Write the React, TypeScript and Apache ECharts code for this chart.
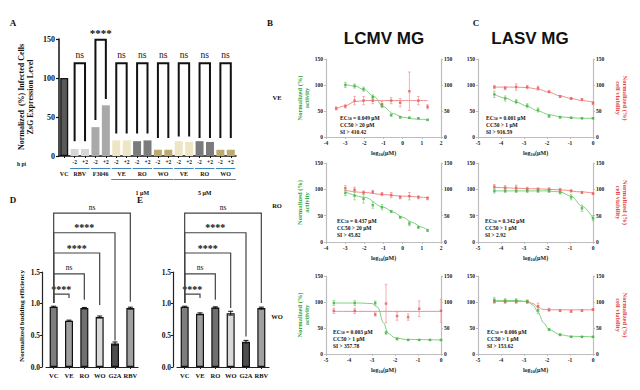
import React, { useEffect, useRef } from "react";
import * as echarts from "echarts";

const SERIF = '"Liberation Serif", "DejaVu Serif", serif';
const SANS = '"Liberation Sans", Arial, sans-serif';

// ---------- Panel A ----------
const aCategories = ["VC", "RBV -2", "RBV +2", "F3046 -2", "F3046 +2", "VE 1µM -2", "VE 1µM +2", "RO 1µM -2", "RO 1µM +2", "WO 1µM -2", "WO 1µM +2", "VE 5µM -2", "VE 5µM +2", "RO 5µM -2", "RO 5µM +2", "WO 5µM -2", "WO 5µM +2"];
const aTickLabels = ["", "-2", "+2", "-2", "+2", "-2", "+2", "-2", "+2", "-2", "+2", "-2", "+2", "-2", "+2", "-2", "+2"];
const aValues = [100, 9, 9, 37, 65, 20, 20, 19, 20, 8, 8, 19, 18, 19, 18, 8, 8];
const aBrackets = [[1, 2, 119, 19, 19], [3, 4, 149, 46, 73], [5, 6, 119, 29, 29], [7, 8, 119, 29, 29], [9, 10, 119, 23, 23], [11, 12, 119, 25, 25], [13, 14, 119, 23, 23], [15, 16, 119, 23, 23]];
const aBracketLabels = ["ns", "****", "ns", "ns", "ns", "ns", "ns", "ns"];
const aGroupLabels = ["VC", "RBV", "F3046", "VE", "RO", "WO", "VE", "RO", "WO"];
const aGroupCenters = [0, 1.5, 3.5, 5.5, 7.5, 9.5, 11.5, 13.5, 15.5];
const aDoseLabels = ["1 μM", "5 μM"];

// ---------- Panels D / E ----------
const deCategories = ["VC", "VE", "RO", "WO", "G2A", "RBV"];
const dValues = [0.95, 0.73, 0.93, 0.79, 0.37, 0.93];
const dErrors = [0.01, 0.01, 0.01, 0.015, 0.025, 0.015];
const eValues = [0.95, 0.84, 0.94, 0.85, 0.4, 0.93];
const eErrors = [0.01, 0.015, 0.01, 0.03, 0.02, 0.015];
const dBrackets = [[0, 1, 1.15, 1.01, 1.09], [0, 2, 1.47, 1.01, 1.06], [0, 3, 1.8, 1.01, 0.98], [0, 4, 2.12, 1.01, 0.42], [0, 5, 2.43, 1.01, 1.03]];
const eBrackets = [[0, 1, 1.15, 1.01, 1.09], [0, 2, 1.47, 1.01, 1.06], [0, 3, 1.8, 1.01, 0.93], [0, 4, 2.12, 1.01, 0.48], [0, 5, 2.43, 1.01, 1.01]];
const deBracketLabels = ["****", "ns", "****", "****", "ns"];

// ---------- Dose-response panels (log10 µM) ----------
const xTop20 = [-2.99, -2.51, -2.04, -1.56, -1.08, -0.6, -0.13, 0.35, 0.82, 1.3];
const xTop20r = [-3.47, -2.99, -2.51, -2.04, -1.56, -1.08, -0.6, -0.13, 0.35, 0.82, 1.3];
const xTop1 = [-4.29, -3.82, -3.34, -2.86, -2.39, -1.91, -1.43, -0.95, -0.48, 0];

// B1 LCMV VE
const b1Green = [100, 98, 92, 77, 60, 42, 38, 37, 36, 33];
const b1GreenErr = [5, 4, 4, 4, 3, 2, 2, 1, 1, 1];
const b1GreenCurveX = [-2.99, -2.5, -2, -1.5, -1, -0.5, 0, 0.5, 1, 1.3];
const b1GreenCurveY = [101, 98, 91, 78, 58, 45, 38, 35, 34, 33];
const b1Red = [55, 59, 70, 70, 70, 63, 70, 66, 88, 70, 58];
const b1RedErr = [3, 3, 8, 8, 6, 5, 6, 8, 37, 8, 4];
const b1RedCurveX = [-3.47, -3, -2.5, -2, -1, 0, 1.3];
const b1RedCurveY = [54, 60, 68, 70, 70, 70, 70];

// B2 LCMV RO
const b2Green = [93, 88, 82, 70, 66, 58, 47, 35, 28, 22];
const b2GreenErr = [5, 8, 8, 6, 5, 2, 2, 4, 2, 2];
const b2GreenCurveX = [-2.99, -2, -1, -0.5, 0, 0.5, 1, 1.3];
const b2GreenCurveY = [95, 85, 66, 57, 47, 37, 28, 23];
const b2Red = [102, 99, 94, 95, 91, 89, 85, 87, 85, 83];
const b2RedErr = [5, 5, 3, 3, 3, 5, 3, 7, 3, 3];
const b2RedCurveX = [-2.99, -2, -1, 0, 1.3];
const b2RedCurveY = [98, 94, 90, 87, 84];

// B3 LCMV WO
const b3GreenX = [-4.66, -3.75, -2.86, -2.39, -1.91, -1.43, -0.95, -0.48, 0];
const b3Green = [98, 98, 98, 41, 29, 27, 27, 27, 27];
const b3GreenErr = [5, 5, 4, 3, 2, 1, 1, 1, 1];
const b3GreenCurveX = [-4.66, -3.5, -3, -2.75, -2.5, -2.3, -2, -1.5, 0];
const b3GreenCurveY = [98, 98, 97, 90, 60, 40, 31, 28, 27];
const b3RedX = [-4.66, -3.75, -2.86, -2.39, -1.91, -1.43, -0.95, 0];
const b3Red = [83, 83, 76, 97, 73, 71, 87, 83];
const b3RedErr = [5, 5, 3, 37, 8, 6, 15, 22];
const b3RedCurveX = [-4.66, 0];
const b3RedCurveY = [82, 82];

// C1 LASV VE
const c1Green = [82, 74, 68, 60, 52, 40, 38, 37, 36, 36];
const c1GreenErr = [6, 5, 4, 4, 4, 2, 2, 1, 1, 1];
const c1GreenCurveX = [-4.29, -3.82, -3.34, -2.86, -2.39, -1.91, -1.43, -0.95, -0.48, 0];
const c1GreenCurveY = [82, 75, 67, 59, 50, 43, 39, 37, 36, 36];
const c1Red = [96, 94, 96, 96, 94, 87, 78, 74, 72, 65];
const c1RedErr = [3, 3, 6, 3, 4, 2, 2, 2, 2, 3];
const c1RedCurveX = [-4.29, -3.34, -2.86, -2.39, -1.91, -1.43, -0.95, -0.48, 0];
const c1RedCurveY = [96, 96, 95, 92, 86, 79, 74, 70, 67];

// C2 LASV RO
const c2Green = [97, 97, 97, 97, 97, 97, 94, 85, 64, 45];
const c2GreenErr = [4, 3, 3, 3, 3, 3, 3, 5, 6, 5];
const c2GreenCurveX = [-4.29, -2, -1.43, -0.95, -0.48, 0];
const c2GreenCurveY = [97, 97, 95, 87, 68, 45];
const c2Red = [105, 103, 103, 101, 100, 100, 99, 97, 94, 92];
const c2RedErr = [4, 4, 5, 3, 3, 3, 3, 2, 2, 2];
const c2RedCurveX = [-4.29, -2.39, -1.43, -0.48, 0];
const c2RedCurveY = [104, 101, 99, 95, 93];

// C3 LASV WO
const c3Green = [104, 102.5, 102.5, 100.6, 83.5, 47, 37, 33, 33, 33];
const c3GreenErr = [5, 4, 4, 3, 6, 2, 2, 1, 1, 1];
const c3GreenCurveX = [-4.29, -3.34, -2.86, -2.6, -2.39, -2.15, -1.91, -1.43, -0.95, 0];
const c3GreenCurveY = [103, 103, 101, 94, 80, 60, 47, 37, 34, 33];
const c3Red = [100.6, 100.6, 100.6, 100.6, 92, 85, 83.5, 82, 83.5, 85.5];
const c3RedErr = [3, 3, 3, 3, 6, 3, 2, 2, 2, 2];
const c3RedCurveX = [-4.29, -2.86, -2.6, -2.39, -2.2, -1.91, 0];
const c3RedCurveY = [101, 101, 97, 90, 86, 85, 85];

const annotations = [
  ["0.049", "20", "410.42"],
  ["0.437", "20", "45.82"],
  ["0.003", "1", "357.78"],
  ["0.001", "1", "916.59"],
  ["0.342", "1", "2.92"],
  ["0.006", "1", "153.62"],
];
const rowLabels = ["VE", "RO", "WO"];

// ---------- layout ----------
const A = { left: 59, top: 39, width: 177, height: 117 };
const D = { left: 46, top: 272, width: 92, height: 95 };
const E = { left: 177, top: 272, width: 92, height: 95 };
const doseGrids = [
  { left: 326, top: 59, width: 115, height: 78 },
  { left: 326, top: 163, width: 115, height: 79 },
  { left: 326, top: 276, width: 115, height: 78 },
  { left: 478, top: 59, width: 115, height: 78 },
  { left: 478, top: 163, width: 115, height: 79 },
  { left: 478, top: 276, width: 115, height: 78 },
];
const annPos = [[340, 117], [337, 220], [333, 331], [486, 117], [485, 220], [487, 331]];

const GREEN = "#45b345";
const GREEN_LINE = "#7fd07f";
const RED = "#e25c5c";
const RED_LINE = "#f08c8c";
const BLUE = "#3f88bf";

const aColors = ["#595959", "#d6d6d6", "#d6d6d6", "#a9a9a9", "#a9a9a9", "#eee5c4", "#eee5c4", "#7b7b7b", "#7b7b7b", "#bcaa6c", "#bcaa6c", "#eee5c4", "#eee5c4", "#7b7b7b", "#7b7b7b", "#bcaa6c", "#bcaa6c"];
const deColors = ["#7d7d7d", "#9e9e9e", "#6f6f6f", "#dadada", "#4e4e4e", "#a0a0a0"];

const pair = (xs: number[], ys: number[]) => xs.map((x, i) => [x, ys[i]]);
const errs = (xs: number[], ys: number[], es: number[]) => xs.map((x, i) => [x, ys[i] - es[i], ys[i] + es[i]]);

function errSeries(xi: number, yi: number, data: number[][], color: string, cap: number, lw: number) {
  return {
    type: "custom",
    xAxisIndex: xi,
    yAxisIndex: yi,
    data,
    silent: true,
    z: 4,
    itemStyle: { color },
    renderItem: (params: any, api: any) => {
      const x = api.value(0);
      const a = api.coord([x, api.value(1)]);
      const b = api.coord([x, api.value(2)]);
      const st = { stroke: color, lineWidth: lw };
      return {
        type: "group",
        children: [
          { type: "line", shape: { x1: a[0], y1: a[1], x2: b[0], y2: b[1] }, style: st },
          { type: "line", shape: { x1: a[0] - cap, y1: a[1], x2: a[0] + cap, y2: a[1] }, style: st },
          { type: "line", shape: { x1: b[0] - cap, y1: b[1], x2: b[0] + cap, y2: b[1] }, style: st },
        ],
      };
    },
  };
}

function bracketSeries(xi: number, yi: number, data: number[][], labels: string[], color: string, lw: number, starFont: string, nsFont: string, gap: number) {
  return {
    type: "custom",
    xAxisIndex: xi,
    yAxisIndex: yi,
    data,
    clip: false,
    silent: true,
    z: 5,
    itemStyle: { color: "#111" },
    renderItem: (params: any, api: any) => {
      const i1 = api.value(0);
      const i2 = api.value(1);
      const top = api.value(2);
      const pl = api.coord([i1, api.value(3)]);
      const pt1 = api.coord([i1, top]);
      const pt2 = api.coord([i2, top]);
      const pr = api.coord([i2, api.value(4)]);
      const lab = labels[params.dataIndex];
      const star = lab.indexOf("*") >= 0;
      return {
        type: "group",
        children: [
          { type: "polyline", shape: { points: [pl, pt1, pt2, pr] }, style: { stroke: color, lineWidth: lw, fill: "none" } },
          {
            type: "text",
            style: {
              text: lab,
              x: (pt1[0] + pt2[0]) / 2,
              y: pt1[1] - (star ? gap - 2 : gap),
              textAlign: "center",
              textVerticalAlign: "bottom",
              font: star ? starFont : nsFont,
              fill: "#111",
              textFill: "#111",
            },
          },
        ],
      };
    },
  };
}

function buildOption() {
  const grids: any[] = [A, D, E, ...doseGrids].map((g) => ({ ...g, containLabel: false, outerBoundsMode: "none" }));
  const xAxes: any[] = [];
  const yAxes: any[] = [];
  const series: any[] = [];
  const graphic: any[] = [];

  // ---- A axes ----
  xAxes.push({
    type: "category",
    gridIndex: 0,
    data: aCategories,
    axisLine: { lineStyle: { color: "#111", width: 1.5 } },
    axisTick: { show: true, alignWithLabel: true, interval: 0, length: 2, lineStyle: { color: "#111" } },
    axisLabel: {
      interval: 0,
      formatter: (v: string, i: number) => aTickLabels[i],
      fontSize: 5.5,
      fontWeight: "bold",
      fontFamily: SERIF,
      color: "#111",
      margin: 3,
    },
  });
  yAxes.push({
    type: "value",
    gridIndex: 0,
    min: 0,
    max: 150,
    interval: 50,
    axisLine: { show: true, lineStyle: { color: "#111", width: 1.5 } },
    axisTick: { show: true, length: 3, lineStyle: { color: "#111", width: 1.2 } },
    axisLabel: { fontSize: 8, fontWeight: "bold", fontFamily: SERIF, color: "#111", margin: 4 },
    splitLine: { show: false },
  });
  // ---- D / E axes ----
  [1, 2].forEach((g) => {
    xAxes.push({
      type: "category",
      gridIndex: g,
      data: deCategories,
      axisLine: { lineStyle: { color: "#222", width: 1.2 } },
      axisTick: { show: true, alignWithLabel: true, length: 2, lineStyle: { color: "#222" } },
      axisLabel: { interval: 0, fontSize: 6.5, fontWeight: "bold", fontFamily: SERIF, color: "#111", margin: 5 },
    });
    yAxes.push({
      type: "value",
      gridIndex: g,
      min: 0,
      max: 1.5,
      interval: 0.5,
      offset: 4,
      axisLine: { show: true, lineStyle: { color: "#222", width: 1.2 } },
      axisTick: { show: true, length: 2, lineStyle: { color: "#222" } },
      axisLabel: { fontSize: 7.5, fontWeight: "bold", fontFamily: SERIF, color: "#111", margin: 2, formatter: (v: number) => v.toFixed(1) },
      splitLine: { show: false },
    });
  });
  // ---- dose axes ----
  const axisGray = "#bdbdbd";
  const doseLabel = { fontSize: 5.5, fontWeight: "bold", fontFamily: SERIF, color: "#222" };
  doseGrids.forEach((g, k) => {
    const gi = 3 + k;
    const isB = k < 3;
    const xmin = k === 0 || k === 1 ? -4 : -5;
    const xmax = k === 0 || k === 1 ? 2 : 0;
    xAxes.push({
      type: "value",
      gridIndex: gi,
      min: xmin,
      max: xmax,
      interval: 1,
      axisLine: { show: true, onZero: false, lineStyle: { color: axisGray, width: 1.2 } },
      axisTick: { show: true, length: 2, lineStyle: { color: axisGray } },
      axisLabel: { ...doseLabel, margin: 3 },
      splitLine: { show: false },
      name: "log{sub|10}(μM)",
      nameLocation: "middle",
      nameGap: 12,
      nameTextStyle: {
        fontSize: 6,
        fontWeight: "bold",
        fontFamily: SERIF,
        color: "#222",
        rich: { sub: { fontSize: 4.5, fontWeight: "bold", fontFamily: SERIF, color: "#222", padding: [3, 0, 0, 0] } },
      },
    });
    yAxes.push({
      type: "value",
      gridIndex: gi,
      position: "left",
      min: 0,
      max: 150,
      interval: 50,
      axisLine: { show: true, onZero: false, lineStyle: { color: axisGray, width: 1.2 } },
      axisTick: { show: true, length: 2, lineStyle: { color: axisGray } },
      axisLabel: { ...doseLabel, margin: 3 },
      splitLine: { show: false },
      name: isB ? "Normalized (%)\nactivity" : "",
      nameLocation: "middle",
      nameRotate: 90,
      nameGap: 16,
      nameTextStyle: { fontSize: 6.5, fontWeight: "bold", fontFamily: SERIF, color: "#3aa63a", lineHeight: 7 },
    });
    yAxes.push({
      type: "value",
      gridIndex: gi,
      position: "right",
      min: 0,
      max: 150,
      interval: 50,
      axisLine: { show: true, onZero: false, lineStyle: { color: axisGray, width: 1.2 } },
      axisTick: { show: true, length: 2, lineStyle: { color: axisGray } },
      axisLabel: { ...doseLabel, margin: 3 },
      splitLine: { show: false },
      name: isB ? "" : "Normalized (%)\ncell viability",
      nameLocation: "middle",
      nameRotate: -90,
      nameGap: 22,
      nameTextStyle: { fontSize: 6.5, fontWeight: "bold", fontFamily: SERIF, color: "#e04a4a", lineHeight: 7 },
    });
  });

  // ---- A series ----
  series.push({
    type: "bar",
    xAxisIndex: 0,
    yAxisIndex: 0,
    barWidth: 8,
    data: aValues.map((v, i) => ({
      value: v,
      itemStyle: { color: aColors[i], borderColor: i === 0 ? "#111" : aColors[i], borderWidth: i === 0 ? 1.3 : 0 },
    })),
  });
  series.push(bracketSeries(0, 0, aBrackets, aBracketLabels, "#111", 2, `bold 11px ${SERIF}`, `9.5px ${SERIF}`, 3));

  // ---- D / E series ----
  const deSets = [
    { xi: 1, yi: 1, vals: dValues, es: dErrors, br: dBrackets },
    { xi: 2, yi: 2, vals: eValues, es: eErrors, br: eBrackets },
  ];
  deSets.forEach((s) => {
    series.push({
      type: "bar",
      xAxisIndex: s.xi,
      yAxisIndex: s.yi,
      barWidth: 8,
      data: s.vals.map((v, i) => ({ value: v, itemStyle: { color: deColors[i], borderColor: "#111", borderWidth: 1.2 } })),
    });
    series.push(errSeries(s.xi, s.yi, s.vals.map((v, i) => [i, v - s.es[i], v + s.es[i]]), "#111", 2.5, 1));
    series.push(bracketSeries(s.xi, s.yi, s.br, deBracketLabels, "#444", 1.2, `bold 10px ${SERIF}`, `7.5px ${SERIF}`, 2));
  });

  // ---- dose series ----
  const dose = [
    { gx: xTop20, g: b1Green, ge: b1GreenErr, gcx: b1GreenCurveX, gcy: b1GreenCurveY, rx: xTop20r, r: b1Red, re: b1RedErr, rcx: b1RedCurveX, rcy: b1RedCurveY },
    { gx: xTop20, g: b2Green, ge: b2GreenErr, gcx: b2GreenCurveX, gcy: b2GreenCurveY, rx: xTop20, r: b2Red, re: b2RedErr, rcx: b2RedCurveX, rcy: b2RedCurveY },
    { gx: b3GreenX, g: b3Green, ge: b3GreenErr, gcx: b3GreenCurveX, gcy: b3GreenCurveY, rx: b3RedX, r: b3Red, re: b3RedErr, rcx: b3RedCurveX, rcy: b3RedCurveY },
    { gx: xTop1, g: c1Green, ge: c1GreenErr, gcx: c1GreenCurveX, gcy: c1GreenCurveY, rx: xTop1, r: c1Red, re: c1RedErr, rcx: c1RedCurveX, rcy: c1RedCurveY },
    { gx: xTop1, g: c2Green, ge: c2GreenErr, gcx: c2GreenCurveX, gcy: c2GreenCurveY, rx: xTop1, r: c2Red, re: c2RedErr, rcx: c2RedCurveX, rcy: c2RedCurveY },
    { gx: xTop1, g: c3Green, ge: c3GreenErr, gcx: c3GreenCurveX, gcy: c3GreenCurveY, rx: xTop1, r: c3Red, re: c3RedErr, rcx: c3RedCurveX, rcy: c3RedCurveY },
  ];
  dose.forEach((p, k) => {
    const xi = 3 + k;
    const yl = 3 + 2 * k;
    const yr = 4 + 2 * k;
    series.push({
      type: "line", xAxisIndex: xi, yAxisIndex: yr, data: pair(p.rcx, p.rcy), showSymbol: false, smooth: 0.35, smoothMonotone: "x",
      lineStyle: { color: RED_LINE, width: 1 }, itemStyle: { color: RED_LINE }, z: 2, silent: true,
    });
    series.push(errSeries(xi, yr, errs(p.rx, p.r, p.re), RED_LINE, 1.3, 0.7));
    series.push({
      type: "scatter", xAxisIndex: xi, yAxisIndex: yr, data: pair(p.rx, p.r), symbol: "rect", symbolSize: 2.5,
      itemStyle: { color: RED }, z: 5, silent: true,
    });
    series.push({
      type: "line", xAxisIndex: xi, yAxisIndex: yl, data: pair(p.gcx, p.gcy), showSymbol: false, smooth: 0.35, smoothMonotone: "x",
      lineStyle: { color: GREEN_LINE, width: 1 }, itemStyle: { color: GREEN_LINE }, z: 2, silent: true,
    });
    series.push(errSeries(xi, yl, errs(p.gx, p.g, p.ge), GREEN_LINE, 1.3, 0.7));
    series.push({
      type: "scatter", xAxisIndex: xi, yAxisIndex: yl, data: pair(p.gx, p.g), symbol: "rect", symbolSize: 2.5,
      itemStyle: { color: GREEN }, z: 5, silent: true,
    });
  });

  // ---- graphic texts ----
  const txt = (t: string, x: number, y: number, font: string, align = "center") => ({
    type: "text",
    style: { text: t, x, y, textAlign: align, textVerticalAlign: "middle", font, fill: "#111" },
  });
  graphic.push(
    txt("A", 13, 23, `bold 9px ${SERIF}`),
    txt("B", 270, 23, `bold 9px ${SERIF}`),
    txt("C", 476, 23, `bold 9px ${SERIF}`),
    txt("D", 13, 200, `bold 9px ${SERIF}`),
    txt("E", 140, 200, `bold 9px ${SERIF}`)
  );
  graphic.push(txt("LCMV MG", 384, 38, `bold 17px ${SANS}`), txt("LASV MG", 530, 38, `bold 17px ${SANS}`));

  // A y title
  graphic.push({
    type: "text", x: 26, y: 97, rotation: Math.PI / 2,
    style: { text: "Normalized  (%) Infected Cells\nZsG Expression Level", x: 0, y: 0, textAlign: "center", textVerticalAlign: "middle", font: `bold 8px ${SERIF}`, lineHeight: 9, fill: "#111" },
  });
  // D y title
  graphic.push({
    type: "text", x: 21.5, y: 316, rotation: Math.PI / 2,
    style: { text: "Normalized budding efficiency", x: 0, y: 0, textAlign: "center", textVerticalAlign: "middle", font: `bold 7px ${SERIF}`, fill: "#111" },
  });

  // A lower annotations
  const band = A.width / aCategories.length;
  const cx = (i: number) => A.left + band * (i + 0.5);
  graphic.push(txt("h pi", 17, 164, `bold 5.5px ${SERIF}`, "left"));
  aBrackets.forEach((b) => {
    graphic.push({ type: "line", shape: { x1: cx(b[0]) - 4.5, y1: 168.5, x2: cx(b[1]) + 4.5, y2: 168.5 }, style: { stroke: BLUE, lineWidth: 1 } });
  });
  aGroupLabels.forEach((t, i) => {
    graphic.push(txt(t, cx(aGroupCenters[i]), 174, `bold 6px ${SERIF}`));
  });
  [[5, 10], [11, 16]].forEach((r, j) => {
    graphic.push({ type: "line", shape: { x1: cx(r[0]) - 5, y1: 179.5, x2: cx(r[1]) + 5, y2: 179.5 }, style: { stroke: BLUE, lineWidth: 1.2 } });
    graphic.push(txt(aDoseLabels[j], (cx(r[0]) + cx(r[1])) / 2, 193, `bold 6px ${SERIF}`));
  });

  // row labels
  [97, 205, 316].forEach((y, i) => {
    graphic.push(txt(rowLabels[i], 277, y, `bold 6.5px ${SERIF}`));
  });

  // EC50 annotations
  annotations.forEach((a, k) => {
    const [x, y] = annPos[k];
    graphic.push({
      type: "text",
      style: {
        x, y: y - 3,
        text: `EC{sub|50} = ${a[0]} μM\nCC50 > ${a[1]} μM\nSI > ${a[2]}`,
        font: `bold 5.5px ${SERIF}`,
        lineHeight: 7,
        fill: "#111",
        rich: { sub: { fontSize: 4, fontWeight: "bold", fontFamily: SERIF, fill: "#111", padding: [2, 0, 0, 0] } },
      },
    });
  });

  return {
    animation: false,
    backgroundColor: "#ffffff",
    grid: grids,
    xAxis: xAxes,
    yAxis: yAxes,
    series,
    graphic,
  };
}

export default function App() {
  const ref = useRef<HTMLDivElement>(null);
  useEffect(() => {
    if (!ref.current) return;
    const chart = echarts.init(ref.current, null, { renderer: "svg" });
    chart.setOption(buildOption() as any);
    return () => chart.dispose();
  }, []);
  return <div ref={ref} style={{ position: "fixed", left: 0, top: 0, width: 640, height: 390, background: "#fff" }} />;
}
